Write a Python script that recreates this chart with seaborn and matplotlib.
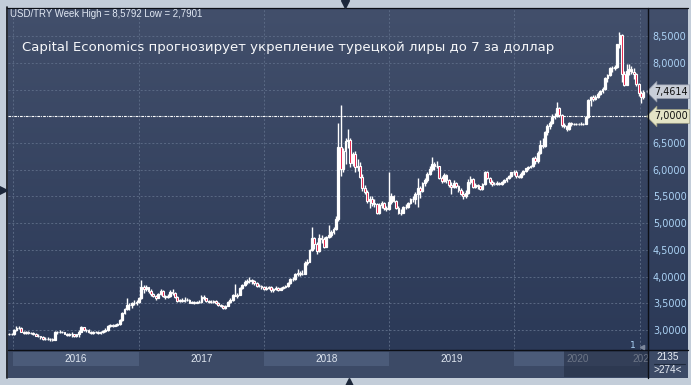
import numpy as np
import pandas as pd
import matplotlib
matplotlib.use("Agg")
import matplotlib.pyplot as plt
import matplotlib.dates as mdates
import matplotlib.transforms as mtransforms
from matplotlib.colors import LinearSegmentedColormap
from matplotlib.patches import Rectangle
import seaborn as sns

# ---------------- data (weekly USD/TRY candles) ----------------
week_start = "2015-12-21"

open_ = [
    2.93, 2.92,
    2.92, 3.00, 3.04, 3.04, 2.97, 2.95, 2.96, 2.95, 2.94, 2.92, 2.89, 2.88, 2.86, 2.83, 2.84, 2.84, 2.84, 2.82, 2.96, 2.97,
    2.97, 2.96, 2.93, 2.90, 2.93, 2.92, 2.88, 2.92, 2.97, 3.05, 3.00, 3.00, 2.96, 2.94, 2.97, 2.97, 2.94, 2.96, 2.99, 3.00,
    3.08, 3.09, 3.08, 3.10, 3.11, 3.18, 3.32, 3.39, 3.46, 3.46, 3.50, 3.50,
    3.52, 3.59, 3.81, 3.77, 3.80, 3.73, 3.67, 3.64, 3.60, 3.68, 3.73, 3.64, 3.61, 3.63, 3.72, 3.70, 3.62, 3.54, 3.56, 3.55,
    3.57, 3.57, 3.51, 3.52, 3.51, 3.52, 3.52, 3.61, 3.59, 3.54, 3.53, 3.53, 3.54, 3.51, 3.46, 3.44, 3.41, 3.45, 3.53, 3.57,
    3.65, 3.64, 3.66, 3.78, 3.84, 3.90, 3.92, 3.94, 3.91, 3.88, 3.83, 3.82,
    3.80, 3.77, 3.78, 3.81, 3.75, 3.76, 3.79, 3.75, 3.78, 3.80, 3.82, 3.88, 3.96, 3.95, 4.04, 4.07, 4.05, 4.05, 4.26, 4.28,
    4.50, 4.72, 4.61, 4.47, 4.73, 4.71, 4.56, 4.74, 4.78, 4.83, 4.90, 5.07, 6.43, 6.02, 6.35, 6.54, 6.55, 6.12, 6.30, 6.05,
    6.07, 5.87, 5.65, 5.58, 5.42, 5.45, 5.37, 5.35, 5.20, 5.34, 5.38, 5.28, 5.27,
    5.40, 5.50, 5.42, 5.28, 5.20, 5.20, 5.30, 5.31, 5.37, 5.45, 5.45, 5.55, 5.65, 5.60, 5.75, 5.80, 5.93, 6.01, 6.10, 6.07,
    6.07, 5.85, 5.79, 5.90, 5.80, 5.72, 5.68, 5.75, 5.70, 5.63, 5.55, 5.50, 5.56, 5.78, 5.83, 5.68, 5.72, 5.69, 5.64, 5.73,
    5.95, 5.85, 5.78, 5.74, 5.74, 5.75, 5.74, 5.77, 5.80, 5.85, 5.89, 5.95,
    5.95, 5.88, 5.87, 5.93, 5.98, 6.03, 6.05, 6.07, 6.23, 6.16, 6.32, 6.46, 6.44, 6.70, 6.82, 6.88, 6.99, 7.00, 7.15, 7.03,
    6.83, 6.82, 6.76, 6.87, 6.85, 6.85, 6.85, 6.86, 6.85, 6.86, 6.98, 7.30, 7.36, 7.33, 7.36, 7.42, 7.48, 7.52, 7.71, 7.77,
    7.90, 7.90, 7.92, 8.35, 8.52, 7.79, 7.59, 7.85, 7.88, 7.84, 7.80, 7.60,
    7.43, 7.37,
]
high = [
    2.95, 2.95,
    3.02, 3.07, 3.07, 3.05, 2.99, 2.99, 2.98, 2.96, 2.96, 2.94, 2.92, 2.89, 2.88, 2.86, 2.86, 2.85, 2.85, 2.99, 2.99, 3.00,
    2.99, 2.97, 2.94, 2.95, 2.97, 2.93, 2.93, 3.00, 3.08, 3.06, 3.02, 3.01, 2.98, 2.99, 2.99, 2.98, 2.98, 3.00, 3.04, 3.09,
    3.11, 3.11, 3.12, 3.13, 3.21, 3.34, 3.42, 3.59, 3.50, 3.53, 3.56, 3.56,
    3.62, 3.94, 3.85, 3.84, 3.81, 3.77, 3.70, 3.66, 3.70, 3.77, 3.74, 3.66, 3.67, 3.74, 3.76, 3.72, 3.63, 3.58, 3.59, 3.61,
    3.59, 3.58, 3.55, 3.54, 3.55, 3.56, 3.65, 3.65, 3.60, 3.56, 3.56, 3.57, 3.56, 3.53, 3.48, 3.46, 3.47, 3.55, 3.60, 3.68,
    3.86, 3.69, 3.80, 3.87, 3.94, 3.95, 3.99, 3.95, 3.93, 3.90, 3.86, 3.84,
    3.82, 3.82, 3.83, 3.82, 3.78, 3.82, 3.80, 3.80, 3.83, 3.84, 3.90, 3.98, 3.99, 4.06, 4.14, 4.10, 4.12, 4.29, 4.33, 4.52,
    4.92, 4.75, 4.64, 4.80, 4.78, 4.74, 4.76, 4.97, 4.88, 4.92, 5.14, 6.88, 7.21, 6.40, 6.60, 6.76, 6.60, 6.34, 6.35, 6.20,
    6.15, 5.92, 5.72, 5.62, 5.50, 5.50, 5.45, 5.38, 5.38, 5.42, 5.40, 5.32, 5.95,
    5.56, 5.52, 5.44, 5.33, 5.26, 5.32, 5.36, 5.39, 5.48, 5.50, 5.58, 5.84, 5.70, 5.78, 5.84, 5.95, 6.08, 6.24, 6.15, 6.16,
    6.08, 5.88, 5.94, 5.93, 5.82, 5.78, 5.80, 5.77, 5.71, 5.65, 5.60, 5.62, 5.82, 5.88, 5.85, 5.76, 5.74, 5.70, 5.76, 5.98,
    5.97, 5.86, 5.80, 5.78, 5.79, 5.77, 5.79, 5.82, 5.86, 5.90, 5.96, 5.99,
    6.00, 5.90, 5.95, 5.99, 6.04, 6.07, 6.09, 6.24, 6.25, 6.36, 6.55, 6.60, 6.73, 6.85, 6.92, 7.04, 7.07, 7.27, 7.18, 7.05,
    6.87, 6.84, 6.90, 6.90, 6.88, 6.88, 6.88, 6.89, 6.88, 7.00, 7.32, 7.38, 7.40, 7.40, 7.45, 7.50, 7.55, 7.73, 7.80, 7.92,
    7.94, 7.97, 8.36, 8.58, 8.54, 7.85, 7.98, 7.98, 7.95, 7.90, 7.82, 7.62,
    7.48, 7.50,
]
low = [
    2.90, 2.90,
    2.91, 2.99, 3.01, 2.96, 2.93, 2.92, 2.93, 2.92, 2.90, 2.88, 2.86, 2.84, 2.81, 2.81, 2.81, 2.80, 2.79, 2.81, 2.93, 2.94,
    2.94, 2.92, 2.88, 2.89, 2.87, 2.87, 2.87, 2.86, 2.96, 2.98, 2.97, 2.95, 2.93, 2.93, 2.94, 2.92, 2.93, 2.94, 2.97, 2.99,
    3.05, 3.06, 3.07, 3.08, 3.09, 3.17, 3.30, 3.38, 3.37, 3.41, 3.47, 3.47,
    3.51, 3.58, 3.70, 3.73, 3.70, 3.64, 3.61, 3.57, 3.59, 3.66, 3.62, 3.58, 3.60, 3.62, 3.66, 3.59, 3.53, 3.52, 3.52, 3.53,
    3.54, 3.50, 3.50, 3.49, 3.50, 3.50, 3.51, 3.57, 3.52, 3.51, 3.51, 3.51, 3.49, 3.45, 3.43, 3.40, 3.40, 3.44, 3.51, 3.55,
    3.63, 3.60, 3.65, 3.76, 3.82, 3.86, 3.88, 3.86, 3.84, 3.81, 3.80, 3.77,
    3.74, 3.75, 3.77, 3.72, 3.72, 3.74, 3.73, 3.74, 3.77, 3.79, 3.81, 3.87, 3.92, 3.94, 4.02, 4.02, 4.03, 4.04, 4.22, 4.27,
    4.48, 4.52, 4.43, 4.46, 4.62, 4.53, 4.55, 4.72, 4.75, 4.80, 4.88, 5.05, 5.88, 5.95, 6.10, 6.40, 6.05, 6.08, 5.96, 5.98,
    5.85, 5.60, 5.55, 5.38, 5.28, 5.33, 5.30, 5.18, 5.17, 5.28, 5.24, 5.23, 5.25,
    5.36, 5.40, 5.27, 5.18, 5.16, 5.19, 5.26, 5.29, 5.36, 5.40, 5.35, 5.30, 5.48, 5.58, 5.70, 5.78, 5.90, 5.98, 6.00, 6.03,
    5.82, 5.75, 5.78, 5.76, 5.68, 5.55, 5.66, 5.66, 5.58, 5.52, 5.45, 5.48, 5.55, 5.74, 5.66, 5.66, 5.64, 5.62, 5.62, 5.72,
    5.82, 5.74, 5.70, 5.71, 5.72, 5.71, 5.72, 5.75, 5.77, 5.82, 5.87, 5.90,
    5.85, 5.84, 5.85, 5.90, 5.96, 6.00, 6.03, 6.06, 6.10, 6.12, 6.30, 6.40, 6.42, 6.65, 6.77, 6.85, 6.95, 6.98, 6.98, 6.80,
    6.78, 6.72, 6.74, 6.82, 6.83, 6.83, 6.84, 6.84, 6.84, 6.85, 6.97, 7.20, 7.28, 7.30, 7.34, 7.40, 7.44, 7.50, 7.65, 7.76,
    7.84, 7.86, 7.91, 8.28, 7.65, 7.56, 7.58, 7.78, 7.80, 7.70, 7.56, 7.38,
    7.25, 7.32,
]
close = [
    2.92, 2.92,
    3.00, 3.04, 3.04, 2.97, 2.95, 2.96, 2.95, 2.94, 2.92, 2.89, 2.88, 2.86, 2.83, 2.84, 2.84, 2.84, 2.82, 2.96, 2.97, 2.97,
    2.96, 2.93, 2.90, 2.93, 2.92, 2.88, 2.92, 2.97, 3.05, 3.00, 3.00, 2.96, 2.94, 2.97, 2.97, 2.94, 2.96, 2.99, 3.00, 3.08,
    3.09, 3.08, 3.10, 3.11, 3.18, 3.32, 3.39, 3.46, 3.46, 3.50, 3.50, 3.52,
    3.59, 3.81, 3.77, 3.80, 3.73, 3.67, 3.64, 3.60, 3.68, 3.73, 3.64, 3.61, 3.63, 3.72, 3.70, 3.62, 3.54, 3.56, 3.55, 3.57,
    3.57, 3.51, 3.52, 3.51, 3.52, 3.52, 3.61, 3.59, 3.54, 3.53, 3.53, 3.54, 3.51, 3.46, 3.44, 3.41, 3.45, 3.53, 3.57, 3.65,
    3.64, 3.66, 3.78, 3.84, 3.90, 3.92, 3.94, 3.91, 3.88, 3.83, 3.82, 3.80,
    3.77, 3.78, 3.81, 3.75, 3.76, 3.79, 3.75, 3.78, 3.80, 3.82, 3.88, 3.96, 3.95, 4.04, 4.07, 4.05, 4.05, 4.26, 4.28, 4.50,
    4.72, 4.61, 4.47, 4.73, 4.71, 4.56, 4.74, 4.78, 4.83, 4.90, 5.07, 6.43, 6.02, 6.35, 6.54, 6.55, 6.12, 6.30, 6.05, 6.07,
    5.87, 5.65, 5.58, 5.42, 5.45, 5.37, 5.35, 5.20, 5.34, 5.38, 5.28, 5.27, 5.40,
    5.50, 5.42, 5.28, 5.20, 5.20, 5.30, 5.31, 5.37, 5.45, 5.45, 5.55, 5.65, 5.60, 5.75, 5.80, 5.93, 6.01, 6.10, 6.07, 6.07,
    5.85, 5.79, 5.90, 5.80, 5.72, 5.68, 5.75, 5.70, 5.63, 5.55, 5.50, 5.56, 5.78, 5.83, 5.68, 5.72, 5.69, 5.64, 5.73, 5.95,
    5.85, 5.78, 5.74, 5.74, 5.75, 5.74, 5.77, 5.80, 5.85, 5.89, 5.95, 5.95,
    5.88, 5.87, 5.93, 5.98, 6.03, 6.05, 6.07, 6.23, 6.16, 6.32, 6.46, 6.44, 6.70, 6.82, 6.88, 6.99, 7.00, 7.15, 7.03, 6.83,
    6.82, 6.76, 6.87, 6.85, 6.85, 6.85, 6.86, 6.85, 6.86, 6.98, 7.30, 7.36, 7.33, 7.36, 7.42, 7.48, 7.52, 7.71, 7.77, 7.90,
    7.90, 7.92, 8.35, 8.52, 7.79, 7.59, 7.85, 7.88, 7.84, 7.80, 7.60, 7.43,
    7.37, 7.46,
]

ytick_values = [3.0, 3.5, 4.0, 4.5, 5.0, 5.5, 6.0, 6.5, 7.0, 7.5, 8.0, 8.5]
years = [2016, 2017, 2018, 2019, 2020, 2021]
last_price = 7.4614
level_price = 7.0
header_text = "USD/TRY Week High = 8,5792 Low = 2,7901"
title_text = "Capital Economics прогнозирует укрепление турецкой лиры до 7 за доллар"
bars_total = "2135"
bars_visible = ">274<"

assert len(open_) == len(high) == len(low) == len(close) == 265

# ---------------- style ----------------
sns.set_theme(style="dark", rc={"axes.facecolor": "none"})
plt.rcParams["font.family"] = ["DejaVu Sans"]

OUTER = "#c3cdd9"
PANEL_TOP = "#424f6b"
PANEL_BOT = "#2b3957"
GRID = "#5a6984"
TICK = "#acd3f6"
RED = "#e3163f"
BAND_BASE = "#3c4a66"
BAND_LIGHT = "#4b5b79"

W, H = 691, 385
fig = plt.figure(figsize=(W / 100, H / 100), dpi=100, facecolor=OUTER)


def px_axes(x0, y0, x1, y1, **kw):
    return fig.add_axes([x0 / W, 1 - y1 / H, (x1 - x0) / W, (y1 - y0) / H], **kw)


# gradient background of chart + right scale
bg = px_axes(8, 8, 688, 350)
cmap = LinearSegmentedColormap.from_list("panel", [PANEL_TOP, PANEL_BOT])
bg.imshow(np.linspace(0, 1, 256).reshape(-1, 1), aspect="auto", cmap=cmap,
          extent=[0, 1, 0, 1], interpolation="bilinear")
bg.set_axis_off()

# main chart
ax = px_axes(8, 8, 648, 350)
ax.set_facecolor("none")
for s in ax.spines.values():
    s.set_visible(False)

dates = pd.date_range(week_start, periods=len(close), freq="W-MON")
x = mdates.date2num(dates)
o = np.array(open_)
h = np.array(high)
l = np.array(low)
c = np.array(close)
up = c >= o
b_lo = np.minimum(o, c)
b_hi = np.maximum(o, c)

ax.vlines(x, b_hi, h, color="white", lw=1.0, zorder=3)
ax.vlines(x, l, b_lo, color="white", lw=1.0, zorder=3)
ax.bar(x[up], (b_hi - b_lo)[up], bottom=b_lo[up], width=5.2,
       facecolor="white", edgecolor="white", linewidth=0.9, zorder=4)
ax.bar(x[~up], (b_hi - b_lo)[~up], bottom=b_lo[~up], width=5.2,
       facecolor=RED, edgecolor="white", linewidth=0.8, zorder=5)

x_left = mdates.date2num(pd.Timestamp("2015-12-17 10:00"))
x_right = mdates.date2num(pd.Timestamp("2021-01-24 07:00"))
ax.set_xlim(x_left, x_right)
ax.set_ylim(2.625, 9.03)

year_starts = [mdates.date2num(pd.Timestamp(f"{y}-01-01")) for y in years]
ax.set_xticks(year_starts)
ax.tick_params(axis="x", length=0, labelbottom=False)
ax.yaxis.tick_right()
ax.set_yticks(ytick_values)
ax.set_yticklabels([f"{v:.4f}".replace(".", ",") for v in ytick_values])
ax.tick_params(axis="y", length=0, pad=3.5, labelsize=6.9, labelcolor=TICK)
ax.grid(True, color=GRID, linestyle=(0, (2, 2)), linewidth=0.7, zorder=1)

ax.axhline(level_price, color="white", lw=0.8, linestyle=(0, (2.4, 1.0, 0.8, 1.0)), zorder=2.5)

trans = mtransforms.blended_transform_factory(ax.transAxes, ax.transData)
ax.text(1.0 + 6 / 640, last_price, f"{last_price:.4f}".replace(".", ","), transform=trans,
        ha="left", va="center", fontsize=6.9, color="#111111", clip_on=False, zorder=10,
        bbox=dict(boxstyle="larrow,pad=0.2", fc="#c9ced8", ec="#8f96a6", lw=0.5))
ax.text(1.0 + 6 / 640, level_price, f"{level_price:.4f}".replace(".", ","), transform=trans,
        ha="left", va="center", fontsize=6.9, color="#111111", clip_on=False, zorder=10,
        bbox=dict(boxstyle="larrow,pad=0.2", fc="#e4e4c6", ec="#9c9c80", lw=0.5))

# bottom time band
band = px_axes(8, 350, 648, 378)
band.set_facecolor(BAND_BASE)
band.grid(False)
band.set_xticks([])
band.set_yticks([])
for s in band.spines.values():
    s.set_visible(False)
band.set_xlim(x_left, x_right)
band.set_ylim(0, 1)
for i, y in enumerate(years):
    s0 = mdates.date2num(pd.Timestamp(f"{y}-01-01"))
    s1 = mdates.date2num(pd.Timestamp(f"{y + 1}-01-01"))
    if i % 2 == 0:
        band.axvspan(s0, s1, ymin=12 / 28, ymax=26 / 28, color=BAND_LIGHT, lw=0)
    cx = (max(s0, x_left) + min(s1, x_right)) / 2
    band.text(cx, 0.69, str(y), ha="center", va="center", fontsize=7.2,
              family=["Liberation Sans", "DejaVu Sans"], color="#dfe6f0", clip_on=True)
band.add_patch(Rectangle((556 / 640, 0.03), 84 / 640, 0.94, transform=band.transAxes,
                         fc="#252f45", alpha=0.62, lw=0, zorder=6))

# right bottom box
rb = px_axes(648, 350, 688, 378)
rb.set_facecolor(BAND_BASE)
rb.grid(False)
rb.set_xticks([])
rb.set_yticks([])
for s in rb.spines.values():
    s.set_visible(False)
rb.set_xlim(0, 1)
rb.set_ylim(0, 1)
rb.text(0.5, 0.74, bars_total, ha="center", va="center", fontsize=7.2,
        family=["Liberation Sans", "DejaVu Sans"], color="#e8edf5")
rb.plot([0.15, 0.92], [0.5, 0.5], color="#1f2a3d", lw=0.8)
rb.text(0.5, 0.27, bars_visible, ha="center", va="center", fontsize=7.2,
        family=["Liberation Sans", "DejaVu Sans"], color="#e8edf5")

# overlay in pixel coordinates: frame lines, texts, UI markers
ov = px_axes(0, 0, W, H)
ov.set_xlim(0, W)
ov.set_ylim(H, 0)
ov.set_axis_off()
ov.plot([7, 688], [7.5, 7.5], color="#0c0f16", lw=0.9)
ov.plot([7.5, 7.5], [7, 378], color="#0c0f16", lw=1.2)
ov.plot([648, 648], [8, 378], color="#0c0f16", lw=1.0)
ov.plot([8, 688], [350, 350], color="#0c0f16", lw=1.0)
ov.text(10, 14, header_text, ha="left", va="center", fontsize=6.9,
        family=["Liberation Sans", "DejaVu Sans"], color="#e2e9f4")
ov.text(22, 48, title_text, ha="left", va="center", fontsize=9.5, color="#f7f8fb")
ov.text(633, 345, "1", ha="center", va="center", fontsize=6.5, color=TICK)
ov.plot(642, 347, marker="<", ms=3, color="#7d889c")
ov.plot(345, 3.5, marker="v", ms=6, color="#1c273a")
ov.plot(349, 381.5, marker="^", ms=6, color="#1c273a")
ov.plot(3.5, 190, marker=">", ms=6, color="#1c273a")

fig.savefig("out.png", dpi=100, facecolor=OUTER)
